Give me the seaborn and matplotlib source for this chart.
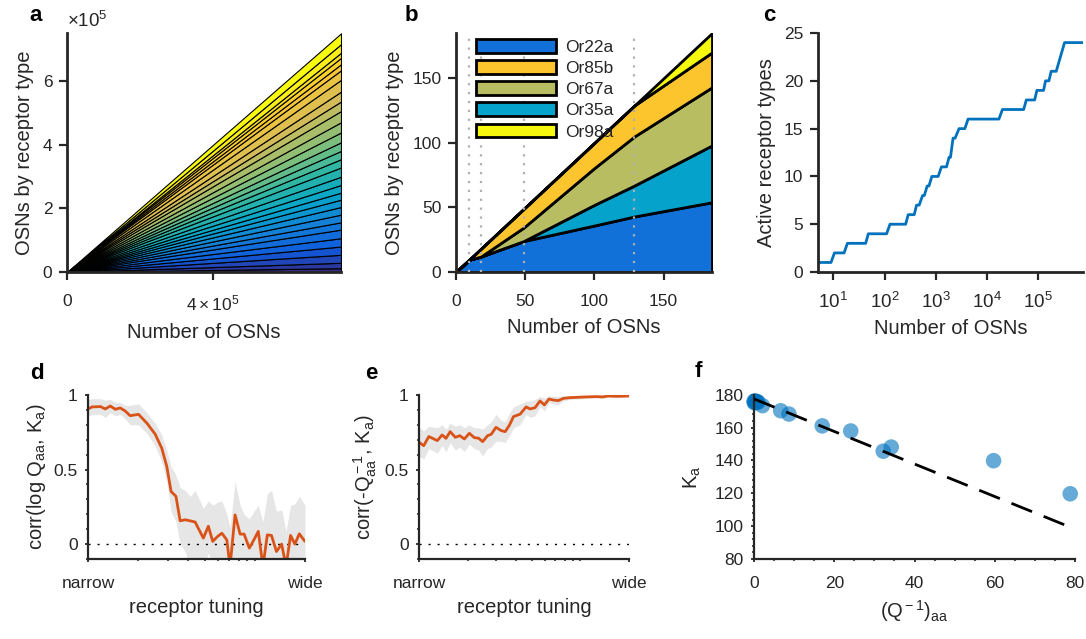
import numpy as np
import matplotlib
matplotlib.use('Agg')
import matplotlib.pyplot as plt
from matplotlib.colors import LinearSegmentedColormap
from matplotlib.ticker import FixedLocator, MultipleLocator, NullLocator, NullFormatter
from matplotlib.patches import Patch
import seaborn as sns

# ---------------- data ----------------
# a: receptor-type counts (x1e5) at the largest OSN number, bottom to top
a_osn_range = [0, 750000]
a_band_counts = [0.12, 0.17, 0.25, 0.26, 0.26, 0.27, 0.23, 0.24, 0.24, 0.23,
                 0.22, 0.24, 0.26, 0.29, 0.26, 0.26, 0.27, 0.31, 0.32, 0.35,
                 0.30, 0.31, 0.37, 0.30, 0.19, 0.20, 0.16, 0.27, 0.34]

# b: stacked OSNs per receptor type
b_osn = [0, 9.4, 18, 49, 100, 129, 185]
b_or22a = [0, 9.4, 12, 24, 36, 43, 54]
b_or35a = [0, 0, 0, 0, 16, 24, 44]
b_or67a = [0, 0, 0, 10.5, 28.5, 38, 45]
b_or85b = [0, 0, 6, 14.5, 19.5, 24, 27]
b_or98a = [0, 0, 0, 0, 0, 0, 15]
b_onsets = [9.4, 18, 49, 129]

# c: number of active receptor types
c_osn = [5.1, 9.0, 10.5, 16.2, 18.8, 42.8, 48.2, 110, 128, 259, 291, 381, 424, 477,
         555, 600, 683, 740, 843, 1120, 1300, 1630, 1830, 1950, 2190, 2400, 2870,
         3720, 4310, 17300, 20200, 52600, 59300, 86300, 95500, 129000, 141000,
         164000, 182000, 228000, 332000, 755000]
c_active = [1, 1, 2, 2, 3, 3, 4, 4, 5, 5, 6, 6, 7, 7, 8, 8, 9, 9, 10, 10, 11, 11,
            12, 12, 14, 14, 15, 15, 16, 16, 17, 17, 18, 18, 19, 19, 20, 20, 21, 21,
            24, 24]

# d: corr(log Q_aa, K_a) vs tuning width
d_tuning = [1.00, 1.06, 1.19, 1.27, 1.36, 1.46, 1.56, 1.67, 1.79, 2.01, 2.26, 2.53,
            2.77, 2.97, 3.15, 3.37, 3.57, 3.82, 4.10, 4.39, 4.92, 5.27, 5.60, 5.97,
            6.35, 6.80, 7.11, 7.62, 8.17, 8.63, 9.28, 9.90, 10.5, 11.2, 11.9, 12.6,
            13.5, 14.5, 15.4, 16.4, 17.4, 18.5, 20.0]
d_corr = [0.906, 0.92, 0.922, 0.906, 0.926, 0.904, 0.913, 0.893, 0.861, 0.870, 0.81,
          0.737, 0.643, 0.52, 0.353, 0.32, 0.156, 0.163, 0.156, 0.148, 0.04, 0.12,
          0.018, 0.05, 0.073, 0.028, -0.15, 0.196, 0.067, 0.067, -0.027, 0.03, 0.085,
          -0.15, 0.062, 0.058, -0.05, 0.0, -0.15, 0.058, 0.0, 0.069, 0.018]
d_upper = [0.97, 0.975, 0.975, 0.965, 0.97, 0.95, 0.95, 0.93, 0.93, 0.94, 0.88, 0.81,
           0.73, 0.63, 0.52, 0.46, 0.38, 0.36, 0.32, 0.36, 0.24, 0.29, 0.26, 0.28,
           0.29, 0.20, 0.11, 0.42, 0.26, 0.20, 0.17, 0.22, 0.26, 0.15, 0.34, 0.36,
           0.22, 0.23, 0.085, 0.26, 0.27, 0.32, 0.26]
d_lower = [0.86, 0.87, 0.87, 0.85, 0.88, 0.86, 0.87, 0.84, 0.80, 0.80, 0.74, 0.66,
           0.55, 0.42, 0.22, 0.15, 0.0, -0.05, -0.15, -0.12, -0.15, -0.06, -0.15,
           -0.12, -0.15, -0.15, -0.2, -0.08, -0.15, -0.15, -0.2, -0.15, -0.12, -0.2,
           -0.15, -0.15, -0.2, -0.15, -0.2, -0.15, -0.15, -0.12, -0.15]

# e: corr(-Q^-1_aa, K_a) vs tuning width
e_tuning = [1.00, 1.07, 1.15, 1.30, 1.39, 1.47, 1.56, 1.68, 1.79, 1.91, 2.05, 2.20,
            2.34, 2.48, 2.66, 2.80, 3.00, 3.23, 3.42, 3.64, 3.85, 4.23, 4.61, 4.88,
            5.24, 5.62, 5.98, 6.39, 6.79, 7.29, 7.83, 8.61, 9.47, 10.9, 12.6, 13.8,
            14.8, 16.7, 20.0]
e_corr = [0.683, 0.66, 0.721, 0.694, 0.732, 0.709, 0.754, 0.716, 0.727, 0.705, 0.743,
          0.714, 0.71, 0.687, 0.727, 0.736, 0.783, 0.761, 0.754, 0.799, 0.855, 0.871,
          0.92, 0.906, 0.915, 0.96, 0.933, 0.973, 0.966, 0.962, 0.977, 0.982, 0.984,
          0.987, 0.989, 0.987, 0.993, 0.991, 0.993]
e_upper = [0.78, 0.76, 0.79, 0.78, 0.80, 0.77, 0.81, 0.79, 0.80, 0.78, 0.80, 0.78,
           0.78, 0.77, 0.80, 0.82, 0.87, 0.83, 0.82, 0.88, 0.92, 0.94, 0.96, 0.96,
           0.97, 0.99, 0.98, 0.995, 0.99, 0.99, 0.995, 0.995, 0.997, 0.998, 0.998,
           0.998, 0.999, 0.999, 0.999]
e_lower = [0.59, 0.57, 0.64, 0.61, 0.66, 0.62, 0.68, 0.63, 0.65, 0.62, 0.67, 0.64,
           0.63, 0.59, 0.64, 0.65, 0.69, 0.69, 0.68, 0.73, 0.78, 0.80, 0.87, 0.85,
           0.86, 0.92, 0.89, 0.95, 0.94, 0.935, 0.96, 0.97, 0.972, 0.976, 0.98, 0.977,
           0.987, 0.983, 0.987]

# f: K_a vs (Q^-1)_aa
f_qinv = [0.0, 0.1, 0.2, 0.3, 0.4, 0.6, 0.8, 1.0, 2.1, 6.65, 8.7, 17.0, 24.1, 32.2,
          34.2, 59.7, 78.8]
f_k = [175.5, 176.2, 175.0, 175.8, 176.0, 175.3, 175.8, 175.4, 173.3, 170.2, 168.2,
       161.0, 157.9, 145.6, 148.1, 139.8, 119.7]
f_fit_range = [0, 78.8]
f_fit_intercept = 177.4
f_fit_slope = -0.99

# ---------------- style ----------------
sns.set_theme(style='ticks')
plt.rcParams['font.family'] = ['Liberation Sans', 'DejaVu Sans']
plt.rcParams['mathtext.fontset'] = 'custom'
plt.rcParams['mathtext.rm'] = 'Liberation Sans'
plt.rcParams['mathtext.it'] = 'Liberation Sans:italic'
plt.rcParams['mathtext.bf'] = 'Liberation Sans:bold'

ink = '#262626'
label_fs = 14.5
tick_fs = 12.5

parula = LinearSegmentedColormap.from_list('parula', [
    '#352A87', '#0F5CDD', '#1481D6', '#06A4CA', '#2EB7A4',
    '#87BF77', '#D1BB59', '#FEC832', '#F9FB0E'])

fig = plt.figure(figsize=(10.86, 6.39), dpi=100)


def style_axes(ax, lw, ticklen, xpad=8, ypad=5):
    sns.despine(ax=ax)
    for s in ['left', 'bottom']:
        ax.spines[s].set_linewidth(lw)
        ax.spines[s].set_color(ink)
    ax.tick_params(axis='both', which='major', direction='out', length=ticklen,
                   width=lw * 0.8, color=ink, labelcolor=ink, labelsize=tick_fs)
    ax.tick_params(axis='both', which='minor', direction='out', length=ticklen * 0.7,
                   width=lw * 0.7, color=ink)
    ax.tick_params(axis='x', pad=xpad)
    ax.tick_params(axis='y', pad=ypad)


# ---------------- a ----------------
ax = fig.add_axes([0.0617, 0.5743, 0.2523, 0.3740])
band_colors = [parula(i / (len(a_band_counts) - 1)) for i in range(len(a_band_counts))]
ax.stackplot(a_osn_range, [[0, v * 1e5] for v in a_band_counts],
             colors=band_colors, edgecolor='black', linewidth=0.8)
ax.set_xlim(0, 750000)
ax.set_ylim(0, 750000)
ax.set_xticks([0, 400000])
ax.set_xticklabels(['0', r'$4\times10^5$'])
ax.set_yticks([0, 200000, 400000, 600000])
ax.set_yticklabels(['0', '2', '4', '6'])
ax.text(0.0, 1.01, r'$\times10^5$', transform=ax.transAxes, ha='left', va='bottom',
        fontsize=13.5, color=ink)
ax.set_xlabel('Number of OSNs', fontsize=label_fs, color=ink, labelpad=7)
ax.set_ylabel('OSNs by receptor type', fontsize=label_fs, color=ink, labelpad=6)
style_axes(ax, 2, 5.5, xpad=10)

# ---------------- b ----------------
ax = fig.add_axes([0.4199, 0.5743, 0.2357, 0.3740])
b_colors = ['#1271d8', '#05a3cb', '#b8bd62', '#fcc42d', '#f6f80d']
ax.stackplot(b_osn, b_or22a, b_or35a, b_or67a, b_or85b, b_or98a,
             colors=b_colors, edgecolor='black', linewidth=2)
for xv in b_onsets:
    ax.axvline(xv, color='#b0b0b0', linestyle=(0, (1, 3)), linewidth=1.6, zorder=5)
ax.set_xlim(0, 185)
ax.set_ylim(0, 185)
ax.set_xticks([0, 50, 100, 150])
ax.set_yticks([0, 50, 100, 150])
handles = [Patch(facecolor=b_colors[0], edgecolor='black', linewidth=2),
           Patch(facecolor=b_colors[3], edgecolor='black', linewidth=2),
           Patch(facecolor=b_colors[2], edgecolor='black', linewidth=2),
           Patch(facecolor=b_colors[1], edgecolor='black', linewidth=2),
           Patch(facecolor=b_colors[4], edgecolor='black', linewidth=2)]
ax.legend(handles, ['Or22a', 'Or85b', 'Or67a', 'Or35a', 'Or98a'], loc='upper left',
          bbox_to_anchor=(0.08, 0.975), frameon=False, fontsize=12.5, handlelength=4.6,
          handleheight=0.85, labelspacing=0.3, handletextpad=0.5, borderaxespad=0,
          borderpad=0)
ax.set_xlabel('Number of OSNs', fontsize=label_fs, color=ink, labelpad=7)
ax.set_ylabel('OSNs by receptor type', fontsize=label_fs, color=ink, labelpad=6)
style_axes(ax, 2, 5.5, xpad=10)

# ---------------- c ----------------
ax = fig.add_axes([0.7532, 0.5743, 0.2440, 0.3740])
sns.lineplot(x=c_osn, y=c_active, ax=ax, color='#0072bd', linewidth=2)
ax.set_xscale('log')
ax.set_xlim(5, 7.6e5)
ax.set_ylim(0, 25)
ax.set_xticks([1e1, 1e2, 1e3, 1e4, 1e5])
ax.set_xticklabels([r'$10^{1}$', r'$10^{2}$', r'$10^{3}$', r'$10^{4}$', r'$10^{5}$'])
ax.xaxis.set_minor_locator(NullLocator())
ax.set_yticks([0, 5, 10, 15, 20, 25])
ax.set_xlabel('Number of OSNs', fontsize=label_fs, color=ink, labelpad=5)
ax.set_ylabel('Active receptor types', fontsize=label_fs, color=ink, labelpad=6)
style_axes(ax, 2, 5.5, xpad=9)
ax.tick_params(axis='x', labelsize=13.5)


# ---------------- d, e ----------------
def corr_panel(rect, tuning, corr, lower, upper, ylabel):
    ax = fig.add_axes(rect)
    ax.fill_between(tuning, lower, upper, color='#e6e6e6', linewidth=0)
    ax.axhline(0, color='black', linestyle=(0, (1.5, 5)), linewidth=1)
    sns.lineplot(x=tuning, y=corr, ax=ax, color='#d95319', linewidth=2)
    ax.set_xscale('log')
    ax.set_xlim(1, 20)
    ax.set_ylim(-0.1, 1)
    ax.xaxis.set_major_locator(FixedLocator([1, 20]))
    ax.set_xticklabels(['narrow', 'wide'])
    ax.xaxis.set_minor_locator(FixedLocator([2, 3, 4, 5, 6, 7, 8, 9, 10]))
    ax.xaxis.set_minor_formatter(NullFormatter())
    ax.set_yticks([0, 0.5, 1])
    ax.set_yticklabels(['0', '0.5', '1'])
    ax.yaxis.set_minor_locator(MultipleLocator(0.1))
    ax.set_xlabel('receptor tuning', fontsize=label_fs, color=ink, labelpad=5)
    ax.set_ylabel(ylabel, fontsize=label_fs, color=ink, labelpad=4)
    style_axes(ax, 1.6, 2.5, xpad=10, ypad=5)
    return ax


corr_panel([0.0810, 0.1252, 0.1998, 0.2567], d_tuning, d_corr, d_lower, d_upper,
           r'corr(log Q$_{\rm aa}$, K$_{\rm a}$)')
corr_panel([0.3858, 0.1252, 0.1934, 0.2567], e_tuning, e_corr, e_lower, e_upper,
           r'corr(-Q$^{\rm -1}_{\rm aa}$, K$_{\rm a}$)')

# ---------------- f ----------------
ax = fig.add_axes([0.6943, 0.1252, 0.2956, 0.2572])
sns.scatterplot(x=f_qinv, y=f_k, ax=ax, s=125, color='#0072bd', alpha=0.6,
                edgecolor='none', zorder=2, clip_on=False)
fit_x = np.array(f_fit_range)
ax.plot(fit_x, f_fit_intercept + f_fit_slope * fit_x, color='black', linewidth=2,
        linestyle=(0, (8, 4.5)), zorder=3)
ax.set_xlim(0, 80)
ax.set_ylim(80, 180)
ax.set_xticks([0, 20, 40, 60, 80])
ax.set_yticks([80, 100, 120, 140, 160, 180])
ax.xaxis.set_minor_locator(MultipleLocator(5))
ax.yaxis.set_minor_locator(MultipleLocator(4))
ax.set_xlabel(r'(Q$^{\rm -1}$)$_{\rm aa}$', fontsize=label_fs, color=ink, labelpad=5)
ax.set_ylabel(r'K$_{\rm a}$', fontsize=label_fs, color=ink, labelpad=8)
style_axes(ax, 1.6, 2.5, xpad=10, ypad=5)

# ---------------- panel letters ----------------
for letter, xp, yp in [('a', 29, 21), ('b', 405, 21), ('c', 763, 21),
                       ('d', 30, 379), ('e', 365, 379), ('f', 695, 377)]:
    fig.text(xp / 1086, 1 - yp / 639, letter, fontsize=16, fontweight='bold',
             color='black', ha='left', va='baseline')

fig.savefig('out.png', dpi=100)
